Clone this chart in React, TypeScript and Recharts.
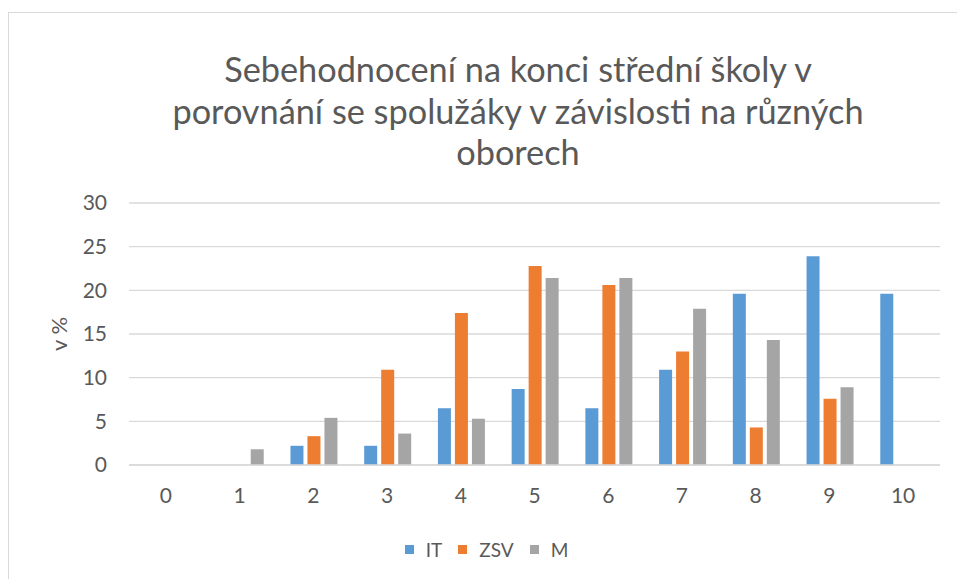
import React from 'react';
import { BarChart, Bar, XAxis, YAxis, CartesianGrid, Legend } from 'recharts';

const categories = ['0', '1', '2', '3', '4', '5', '6', '7', '8', '9', '10'];
const itValues = [0, 0, 2.2, 2.2, 6.5, 8.7, 6.5, 10.9, 19.6, 23.9, 19.6];
const zsvValues = [0, 0, 3.3, 10.9, 17.4, 22.8, 20.6, 13.0, 4.3, 7.6, 0];
const mValues = [0, 1.8, 5.4, 3.6, 5.3, 21.4, 21.4, 17.9, 14.3, 8.9, 0];
const yTicks = [0, 5, 10, 15, 20, 25, 30];
const titleLines = [
  'Sebehodnocení na konci střední školy v',
  'porovnání se spolužáky v závislosti na různých',
  'oborech',
];
const seriesNames = ['IT', 'ZSV', 'M'];
const seriesColors = ['#5B9BD5', '#ED7D31', '#A5A5A5'];

const data = categories.map((c, i) => ({
  cat: c,
  IT: itValues[i],
  ZSV: zsvValues[i],
  M: mValues[i],
}));

const FONT = 'Lato, "Open Sans", sans-serif';
const TEXT = '#595959';

const LegendContent = () => (
  <div style={{ display: 'flex', justifyContent: 'center', alignItems: 'center', height: 20, fontFamily: FONT, fontSize: 19, color: TEXT, paddingLeft: 32 }}>
    {seriesNames.map((n, i) => (
      <div key={n} style={{ display: 'flex', alignItems: 'center', marginRight: 16 }}>
        <div style={{ width: 9, height: 9, background: seriesColors[i], marginRight: 12 }} />
        <span>{n}</span>
      </div>
    ))}
  </div>
);

export default function App() {
  return (
    <div style={{ position: 'absolute', left: 0, top: 0, width: 957, height: 579, overflow: 'hidden', background: '#fff' }}>
      <div style={{ position: 'absolute', left: 8, top: 12, width: 1100, height: 700, border: '1px solid #D9D9D9', boxSizing: 'border-box' }} />
      <svg style={{ position: 'absolute', left: 0, top: 0 }} width={957} height={579}>
        {titleLines.map((t, i) => (
          <text key={i} x={518} y={82 + i * 41.7} textAnchor="middle" fontFamily={FONT} fontSize={34.3} fill={TEXT}>
            {t}
          </text>
        ))}
      </svg>
      <div style={{ position: 'absolute', left: 0, top: 0 }}>
        <BarChart
          width={957}
          height={579}
          data={data}
          margin={{ top: 203, right: 17, bottom: 64, left: 0 }}
          barCategoryGap="19%"
          barGap={4}
        >
          <CartesianGrid vertical={false} stroke="#D9D9D9" strokeWidth={1.3} />
          <XAxis
            dataKey="cat"
            height={30}
            tickSize={0}
            tickMargin={23}
            axisLine={{ stroke: '#D9D9D9', strokeWidth: 1.3 }}
            tickLine={false}
            tick={{ fill: TEXT, fontSize: 21, fontFamily: FONT }}
          />
          <YAxis
            width={129}
            domain={[0, 30]}
            ticks={yTicks}
            tickSize={0}
            tickMargin={22}
            axisLine={false}
            tickLine={false}
            tick={{ fill: TEXT, fontSize: 21, fontFamily: FONT }}
            label={{ value: 'v %', angle: -90, position: 'insideLeft', offset: 59, style: { textAnchor: 'middle', fill: TEXT, fontSize: 22, fontFamily: FONT } }}
          />
          <Legend
            verticalAlign="bottom"
            content={<LegendContent />}
            wrapperStyle={{ position: 'absolute', top: 539, left: 0, width: 957, height: 20 }}
          />
          {seriesNames.map((n, i) => (
            <Bar key={n} dataKey={n} fill={seriesColors[i]} isAnimationActive={false} />
          ))}
        </BarChart>
      </div>
    </div>
  );
}
